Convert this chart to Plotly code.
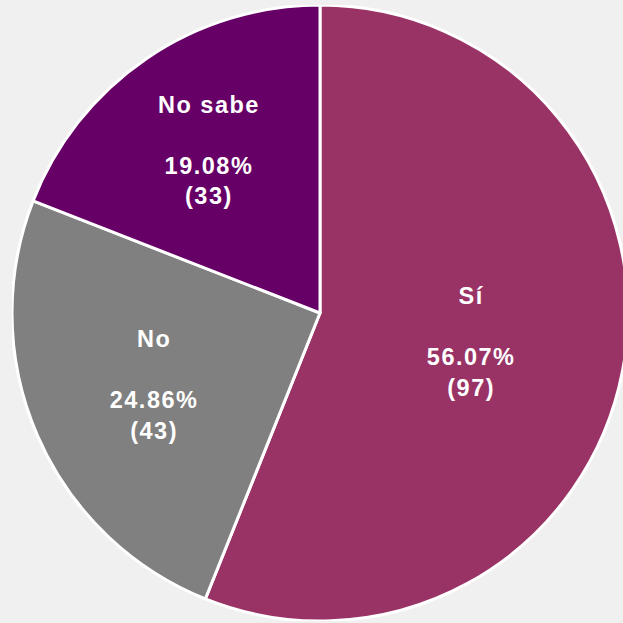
import plotly.graph_objects as go

labels = ["Sí", "No", "No sabe"]
counts = [97, 43, 33]
percents = ["56.07%", "24.86%", "19.08%"]
colors = ["#993366", "#808080", "#660066"]

texts = [f"<b>{l}</b><br> <br><b>{p}</b><br><b>({c})</b>" for l, p, c in zip(labels, percents, counts)]

fig = go.Figure(go.Pie(
    labels=labels,
    values=counts,
    text=texts,
    textinfo="text",
    textposition="inside",
    insidetextorientation="horizontal",
    sort=False,
    direction="clockwise",
    rotation=0,
    marker=dict(colors=colors, line=dict(color="white", width=3)),
    textfont=dict(family="Liberation Sans, Arial", size=23.5, color="white"),
    domain=dict(x=[0, 1], y=[0, 1]),
    showlegend=False,
    hoverinfo="label+value+percent",
))

fig.update_layout(
    width=616, height=616,
    margin=dict(l=0, r=0, t=0, b=0),
    paper_bgcolor="#f0f0f0",
    plot_bgcolor="#f0f0f0",
    uniformtext=dict(minsize=23, mode="show"),
)

page_css = (
    "document.documentElement.style.background='#f0f0f0';"
    "document.body.style.margin='0';"
    "document.body.style.padding='5px 0 0 12px';"
    "document.body.style.background='#f0f0f0';"
    "document.body.style.overflow='hidden';"
    "document.querySelectorAll('.slicetext').forEach(function(t){t.style.letterSpacing='1.5px';});"
)

fig.write_html("out.html", post_script=page_css)
